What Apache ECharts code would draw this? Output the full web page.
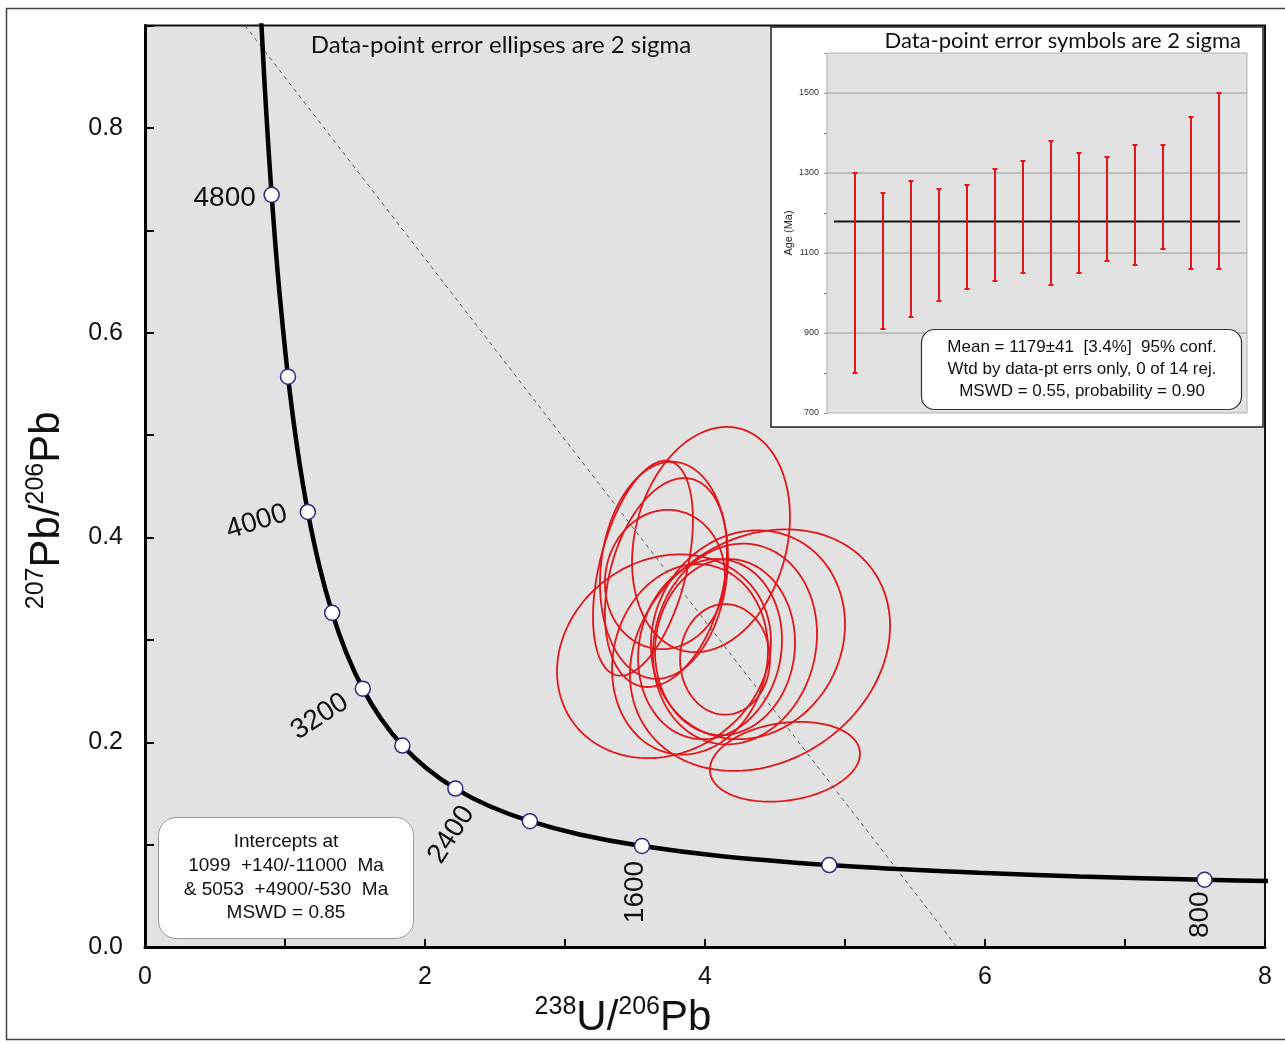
<!DOCTYPE html>
<html><head><meta charset="utf-8">
<script src="https://cdn.jsdelivr.net/npm/echarts@6/dist/echarts.min.js"></script>
<style>html,body{margin:0;padding:0;background:#fff;}#c{width:1285px;height:1044px;}</style>
</head><body><div id="c"></div>
<script>
// ---------- Concordia curve (age in Ma, 238U/206Pb, 207Pb/206Pb) ----------
const concordiaAge = [5100,5000,4900,4800,4700,4600,4400,4200,4000,3800,3600,3400,3200,3000,2800,2600,2400,2200,2000,1800,1600,1400,1200,1100,1000,900,800,750];
const concordiaX = [0.8293,0.8533,0.8783,0.9045,0.9318,0.9604,1.0215,1.0888,1.1630,1.2453,1.3370,1.4398,1.5557,1.6874,1.8384,2.0129,2.2170,2.4586,2.7490,3.1046,3.5497,4.1226,4.8875,5.3746,5.9593,6.6743,7.5684,8.1049];
const concordiaY = [0.9071,0.8453,0.7879,0.7346,0.6852,0.6393,0.5571,0.4862,0.4250,0.3721,0.3264,0.2867,0.2524,0.2227,0.1968,0.1744,0.1548,0.1378,0.1230,0.1100,0.0987,0.0888,0.0801,0.0762,0.0725,0.0690,0.0658,0.0643];
const markerAges = [4800,4400,4000,3600,3200,2800,2400,2000,1600,1200,800];
const labelAges = [4800,4000,3200,2400,1600,800];

// ---------- Discordia (regression) line ----------
const discordX = [0.714, 5.80];
const discordY = [0.90, 0.0];

// ---------- Data-point error ellipses (2 sigma) ----------
const ellX   = [4.043,3.557,3.721,3.714,3.707,3.707,4.393,4.307,4.214,4.143,4.143,4.571,3.893,4.036];
const ellY   = [0.398,0.370,0.356,0.359,0.368,0.284,0.290,0.305,0.296,0.293,0.281,0.181,0.281,0.291];
const ellSX  = [0.564,0.357,0.436,0.429,0.457,0.764,0.929,0.693,0.586,0.500,0.321,0.536,0.557,0.514];
const ellSY  = [0.110,0.105,0.102,0.068,0.106,0.0995,0.118,0.102,0.098,0.086,0.054,0.039,0.093,0.088];
const ellRho = [0.20,0.45,0.30,0.05,0.12,0.15,0.20,0.10,0.10,0.05,0.00,0.20,0.10,0.10];

// ---------- Inset: weighted mean ages ----------
const spotIndex = [1,2,3,4,5,6,7,8,9,10,11,12,13,14];
const ageLow  = [800,910,940,980,1010,1030,1050,1020,1050,1080,1070,1110,1060,1060];
const ageHigh = [1300,1250,1280,1260,1270,1310,1330,1380,1350,1340,1370,1370,1440,1500];
const meanAge = 1179;
const insetGridAges = [900,1100,1300,1500];

// ---------- Text ----------
const mainNote = 'Data-point error ellipses are 2 sigma';
const insetNote = 'Data-point error symbols are 2 sigma';
const interceptLines = ['Intercepts at','1099  +140/-11000  Ma','& 5053  +4900/-530  Ma','MSWD = 0.85'];
const meanLines = ['Mean = 1179\u00b141  [3.4%]  95% conf.','Wtd by data-pt errs only, 0 of 14 rej.','MSWD = 0.55, probability = 0.90'];

const FONT = '"Liberation Sans", Arial, sans-serif';
const NOTEFONT = 'Lato, "Open Sans", sans-serif';
const RED = '#e0161b';

const curve = concordiaAge.map((a,i)=>[concordiaX[i], concordiaY[i]]);
const markers = concordiaAge.map((a,i)=>({a, v:[concordiaX[i], concordiaY[i]]})).filter(d=>markerAges.includes(d.a)).map(d=>d.v);

const chart = echarts.init(document.getElementById('c'), null, {renderer:'canvas'});

const titleRich = {
  s:{fontSize:25, fontFamily:FONT, color:'#111', verticalAlign:'top', lineHeight:46},
  m:{fontSize:42, fontFamily:FONT, color:'#111', lineHeight:46}
};

const option = {
  animation: false,
  backgroundColor: '#fff',
  grid: [
    {left:145, right:20, top:25.5, bottom:96, show:true, backgroundColor:'#e2e2e2', borderColor:'#111', borderWidth:2, z:0},
    {left:827, top:53, width:420, height:360, show:true, backgroundColor:'#e2e2e2', borderColor:'#b0b0b0', borderWidth:1, z:20}
  ],
  xAxis: [
    {gridIndex:0, type:'value', min:0, max:8, interval:1,
     axisLine:{show:true, onZero:false, lineStyle:{color:'#000', width:3}},
     axisTick:{show:true, inside:true, length:8, lineStyle:{color:'#000', width:2}},
     splitLine:{show:false},
     axisLabel:{fontSize:25, fontFamily:FONT, color:'#111', margin:18, formatter:v=> (v%2===0? String(v):'')},
     name:'{s|238}{m|U/}{s|206}{m|Pb}', nameLocation:'middle', nameGap:44,
     nameTextStyle:{padding:[0,164,0,0], rich:titleRich}
    },
    {gridIndex:1, type:'value', min:0, max:15, show:false}
  ],
  yAxis: [
    {gridIndex:0, type:'value', min:0, max:0.9, interval:0.1,
     axisLine:{show:true, onZero:false, lineStyle:{color:'#000', width:3}},
     axisTick:{show:true, inside:true, length:9, lineStyle:{color:'#000', width:2}},
     splitLine:{show:false},
     axisLabel:{fontSize:25, fontFamily:FONT, color:'#111', margin:22, formatter:v=> (Math.round(v*10)%2===0? v.toFixed(1):'')},
     name:'{s|207}{m|Pb/}{s|206}{m|Pb}', nameLocation:'middle', nameGap:75, nameRotate:90,
     nameTextStyle:{padding:[0,48,0,0], rich:titleRich}
    },
    {gridIndex:1, type:'value', min:700, max:1600, interval:100, z:30,
     axisLine:{show:false},
     axisTick:{show:true, length:3, lineStyle:{color:'#999'}},
     splitLine:{show:false},
     axisLabel:{fontSize:9, fontFamily:FONT, color:'#333', margin:8, formatter:v=> (v%200===100? String(v):'')},
     name:'Age (Ma)', nameLocation:'middle', nameGap:33, nameRotate:90,
     nameTextStyle:{fontSize:11, fontFamily:FONT, color:'#222'}
    }
  ],
  series: [
    {type:'line', xAxisIndex:0, yAxisIndex:0, data: discordX.map((x,i)=>[x, discordY[i]]), symbol:'none', silent:true,
     lineStyle:{color:'#5a5a5a', width:1, type:[4,4]}, z:4},
    {type:'custom', xAxisIndex:0, yAxisIndex:0, silent:true, z:3,
     data: ellX.map((x,i)=>[x, ellY[i], ellSX[i], ellSY[i], ellRho[i]]),
     encode:{x:0, y:1},
     renderItem:(params, api)=>{
       const cx=api.value(0), cy=api.value(1), sx=api.value(2), sy=api.value(3), r=api.value(4);
       const q=Math.sqrt(1-r*r); const pts=[]; const n=140;
       for(let k=0;k<n;k++){const t=2*Math.PI*k/n; pts.push(api.coord([cx+sx*Math.cos(t), cy+sy*(r*Math.cos(t)+q*Math.sin(t))]));}
       return {type:'polygon', shape:{points:pts}, style:{fill:'none', stroke:RED, lineWidth:1.8}};
     }},
    {type:'line', xAxisIndex:0, yAxisIndex:0, data:curve, symbol:'none', smooth:0.3, clip:true, silent:true,
     lineStyle:{color:'#000', width:4.5}, z:5},
    {type:'scatter', xAxisIndex:0, yAxisIndex:0, data:markers, symbol:'circle', symbolSize:15, silent:true,
     itemStyle:{color:'#fff', borderColor:'#2b2b82', borderWidth:1.5, opacity:1}, z:6},
    // inset grid lines
    {type:'custom', xAxisIndex:1, yAxisIndex:1, silent:true, z:21,
     data: insetGridAges.map(v=>[0, v]), encode:{x:0, y:1},
     renderItem:(params, api)=>{
       const a=api.coord([0, api.value(1)]), b=api.coord([15, api.value(1)]);
       return {type:'line', shape:{x1:a[0],y1:a[1],x2:b[0],y2:b[1]}, style:{stroke:'#9a9a9a', lineWidth:1}};
     }},
    // mean line
    {type:'line', xAxisIndex:1, yAxisIndex:1, data:[[0.25,meanAge],[14.75,meanAge]], symbol:'none', silent:true, z:22,
     lineStyle:{color:'#111', width:2}},
    // error bars
    {type:'custom', xAxisIndex:1, yAxisIndex:1, silent:true, z:23,
     data: spotIndex.map((s,i)=>[s, ageLow[i], ageHigh[i]]),
     encode:{x:0, y:[1,2]},
     renderItem:(params, api)=>{
       const x=api.value(0); const p1=api.coord([x, api.value(1)]), p2=api.coord([x, api.value(2)]);
       const st={stroke:RED, lineWidth:2}; const c=2.5;
       return {type:'group', children:[
         {type:'line', shape:{x1:p1[0],y1:p1[1],x2:p2[0],y2:p2[1]}, style:st},
         {type:'line', shape:{x1:p1[0]-c,y1:p1[1],x2:p1[0]+c,y2:p1[1]}, style:st},
         {type:'line', shape:{x1:p2[0]-c,y1:p2[1],x2:p2[0]+c,y2:p2[1]}, style:st}
       ]};
     }}
  ]
};
chart.setOption(option);

// ---------- graphics (boxes, notes, concordia age labels) ----------
const labelStyle = {4800:[-47,3,0], 4000:[-51,10,17], 3200:[-43,28,33], 2400:[-4,46,57], 1600:[-7,46,90], 800:[-4,35,90]};
const graphics = [];
graphics.push({type:'rect', z:100, silent:true, shape:{x:6.5,y:8.5,width:1300,height:1031}, style:{fill:'none', stroke:'#444', lineWidth:1.5}});
graphics.push({type:'text', z:50, silent:true, x:501, y:45, style:{text:mainNote, font:'24px '+NOTEFONT, fill:'#111', align:'center', verticalAlign:'middle'}});
// inset frame
graphics.push({type:'rect', z:10, silent:true, shape:{x:771,y:27,width:492,height:400}, style:{fill:'#fff', stroke:'#222', lineWidth:1.5}});
graphics.push({type:'text', z:50, silent:true, x:1241, y:41, style:{text:insetNote, font:'22px '+NOTEFONT, fill:'#111', align:'right', verticalAlign:'middle'}});
// mean box
graphics.push({type:'rect', z:60, silent:true, shape:{x:921.5,y:329.5,width:320,height:80,r:13}, style:{fill:'#fff', stroke:'#333', lineWidth:1.2}});
meanLines.forEach((t,i)=>graphics.push({type:'text', z:61, silent:true, x:1082, y:347+i*22, style:{text:t, font:'17px '+FONT, fill:'#111', align:'center', verticalAlign:'middle'}}));
// intercept box
graphics.push({type:'rect', z:60, silent:true, shape:{x:158.5,y:817.5,width:255,height:121,r:18}, style:{fill:'#fff', stroke:'#999', lineWidth:1}});
interceptLines.forEach((t,i)=>graphics.push({type:'text', z:61, silent:true, x:286, y:842+i*23.7, style:{text:t, font:'19px '+FONT, fill:'#111', align:'center', verticalAlign:'middle'}}));
// age labels
labelAges.forEach(a=>{
  const i = concordiaAge.indexOf(a);
  const p = chart.convertToPixel({gridIndex:0}, [concordiaX[i], concordiaY[i]]);
  const s = labelStyle[a];
  graphics.push({type:'text', z:70, silent:true, x:p[0]+s[0], y:p[1]+s[1], rotation:s[2]*Math.PI/180,
    style:{text:String(a), font:'28px '+FONT, fill:'#111', align:'center', verticalAlign:'middle'}});
});
chart.setOption({graphic: graphics});
</script></body></html>
